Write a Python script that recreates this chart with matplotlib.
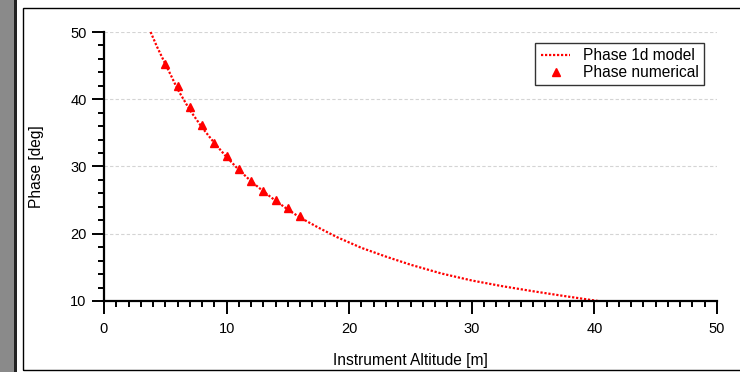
import matplotlib.pyplot as plt
from matplotlib.patches import Rectangle
from matplotlib.ticker import MultipleLocator

plt.rcParams['font.family'] = ['Liberation Sans', 'DejaVu Sans']

# Phase 1d model
model_alt = [3.8, 4.3, 4.8, 5.5, 6.0, 7.0, 8.0, 9.0, 10.0, 11.0, 12.0, 13.0, 14.0,
             15.0, 16.0, 17.5, 19.0, 21.0, 23.0, 25.0, 27.5, 30.0, 32.5, 35.0,
             37.5, 40.3]
model_phase = [50.0, 47.9, 46.0, 43.4, 41.5, 38.4, 35.8, 33.5, 31.4, 29.5, 27.8,
               26.3, 24.9, 23.6, 22.4, 20.9, 19.5, 17.9, 16.6, 15.4, 14.1, 13.05,
               12.2, 11.45, 10.75, 10.0]

# Phase numerical
num_alt = [5, 6, 7, 8, 9, 10, 11, 12, 13, 14, 15, 16]
num_phase = [45.3, 41.9, 38.8, 36.1, 33.5, 31.6, 29.6, 27.8, 26.3, 25.0, 23.8, 22.6]

W, H = 740, 372
fig = plt.figure(figsize=(W / 100, H / 100), dpi=100)

# page decoration: gray strip, dark edge, frame
fig.patches.append(Rectangle((0, 0), 14 / W, 1, transform=fig.transFigure,
                             facecolor='#8a8a8a', edgecolor='none'))
fig.patches.append(Rectangle((14 / W, 0), 2.5 / W, 1, transform=fig.transFigure,
                             facecolor='#222222', edgecolor='none'))
fig.patches.append(Rectangle((23 / W, 1 - 370 / H), 1.0, (370 - 8) / H,
                             transform=fig.transFigure, facecolor='none',
                             edgecolor='black', linewidth=1.0))

ax = fig.add_axes([104 / W, 1 - 301 / H, (717 - 104) / W, (301 - 32) / H])

ax.plot(model_alt, model_phase, color='red', linestyle=(0, (1, 0.8)),
        linewidth=1.6, label='Phase 1d model', clip_on=False)
ax.plot(num_alt, num_phase, linestyle='none', marker='^', markersize=5.5,
        color='red', label='Phase numerical')

ax.set_xlim(0, 50)
ax.set_ylim(10, 50)
ax.xaxis.set_major_locator(MultipleLocator(10))
ax.xaxis.set_minor_locator(MultipleLocator(1))
ax.yaxis.set_major_locator(MultipleLocator(10))
ax.yaxis.set_minor_locator(MultipleLocator(2))

for s in ['top', 'right']:
    ax.spines[s].set_visible(False)
for s in ['left', 'bottom']:
    ax.spines[s].set_linewidth(1.6)

ax.tick_params(axis='both', which='major', length=9, width=1.4, labelsize=10.5)
ax.tick_params(axis='both', which='minor', length=4.5, width=1.4)
ax.tick_params(axis='x', which='major', pad=6)
ax.tick_params(axis='y', which='major', pad=3.5)

ax.grid(axis='y', which='major', color='#d4d4d4', linestyle=(0, (3, 2)),
        linewidth=0.8)
ax.set_axisbelow(True)

ax.set_xlabel('Instrument Altitude [m]', fontsize=11.2)
ax.xaxis.set_label_coords(0.5, -(353 - 301) / 269)
ax.set_ylabel('Phase [deg]', fontsize=11.2, va='center')
ax.yaxis.set_label_coords((36 - 104) / 613, 0.5)

leg = ax.legend(loc='upper right', bbox_to_anchor=(0.979, 0.959),
                borderaxespad=0, fontsize=11.2, frameon=True, fancybox=False,
                handlelength=1.9, handletextpad=0.8, borderpad=0.35,
                labelspacing=0.1)
leg.get_frame().set_edgecolor('black')
leg.get_frame().set_linewidth(1.0)

fig.savefig('out.png', dpi=100)
